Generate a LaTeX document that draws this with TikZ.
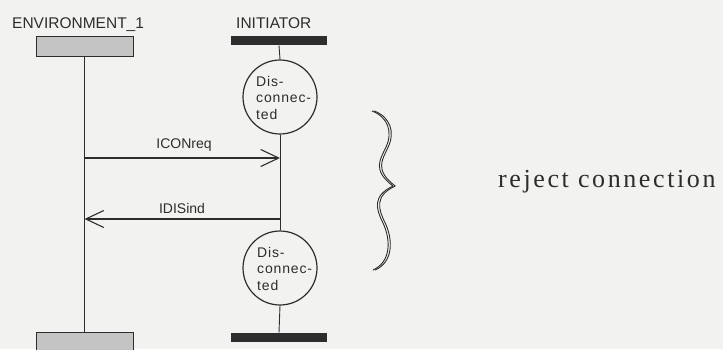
\documentclass[tikz,border=0pt]{standalone}
\usepackage{fontspec}
\setmainfont{Liberation Serif}
\newfontfamily\plotfont{Liberation Sans}
\newfontfamily\statefont[LetterSpace=6]{Liberation Sans}
\newfontfamily\notefont[LetterSpace=10]{Liberation Serif}
\usetikzlibrary{arrows.meta}
\definecolor{paper}{RGB}{242,242,240}
\definecolor{inkc}{RGB}{45,45,45}
\definecolor{stipple}{RGB}{196,196,196}

\begin{document}
\begin{tikzpicture}[x=1pt,y=-1pt,
  lifeline/.style={draw=inkc,line width=0.9pt},
  msg/.style={draw=inkc,line width=1.1pt,
    -{Straight Barb[length=18pt,width=17pt,line width=1.1pt]}},
  envbox/.style={draw=inkc,line width=1pt,fill=stipple,
    minimum width=97pt,minimum height=20pt,inner sep=0pt},
  procbar/.style={fill=inkc,minimum width=96pt,minimum height=9.5pt,inner sep=0pt},
  statecircle/.style={circle,draw=inkc,line width=1.2pt,minimum size=74pt,inner sep=0pt},
  statetext/.style={font=\statefont\fontsize{14}{16.5}\selectfont,align=left,
    anchor=west,inner sep=0pt,text=inkc},
  header/.style={font=\plotfont\fontsize{15.5}{18}\selectfont,anchor=base west,
    inner sep=0pt,text=inkc},
  msglabel/.style={font=\plotfont\fontsize{14}{16}\selectfont,anchor=base,
    inner sep=0pt,text=inkc},
  brace/.style={draw=inkc,line width=0.9pt,line cap=round,line join=round},
]
\useasboundingbox (0,0) rectangle (723,349);
\clip (0,0) rectangle (723,349);
\fill[paper] (0,0) rectangle (723,349);

% instance headers
\node[header] (envname) at (12,28) {ENVIRONMENT\_1};
\node[header] (initname) at (236,28) {INITIATOR};

% instance heads and ends
\node[envbox] (envtop) at (84.5,46) {};
\node[procbar] (inittop) at (279,40.5) {};
\node[envbox] (envbot) at (84.5,342) {};
\node[procbar] (initbot) at (279,337.5) {};

% states of the initiator
\node[statecircle] (s1) at (280,97) {};
\node[statetext] (s1text) at (256,97.5) {Dis-\\connec-\\ted};
\node[statecircle] (s2) at (280,268) {};
\node[statetext] (s2text) at (257,268.5) {Dis-\\connec-\\ted};

% lifelines
\draw[lifeline] (envtop.south) -- (envbot.north);
\draw[lifeline] (inittop.south) -- (s1.north);
\draw[lifeline] (s1.south) -- (s2.north);
\draw[lifeline] (s2.south) -- (initbot.north);

% messages
\coordinate (conreqA) at (84.5,158);
\coordinate (conreqB) at (280,158);
\draw[msg] (conreqA) -- (conreqB);
\node[msglabel] (conreqlbl) at (184,148) {ICONreq};

\coordinate (disindA) at (280,219);
\coordinate (disindB) at (84.5,219);
\draw[msg] (disindA) -- (disindB);
\node[msglabel] (disindlbl) at (182,213) {IDISind};

% comment brace
\foreach \dx in {0,2.2}{
  \draw[brace,xshift=\dx] (372,111)
    .. controls (388,117) and (393,132) .. (386,147)
    .. controls (380,160) and (372,170) .. (393,186)
    .. controls (372,196) and (376,209) .. (383,223)
    .. controls (391,240) and (391,262) .. (373,270);
}
\node[font=\notefont\fontsize{26}{30}\selectfont,anchor=base west,inner sep=0pt,
  text=inkc] (note) at (498,187) {reject connection};
\end{tikzpicture}
\end{document}
